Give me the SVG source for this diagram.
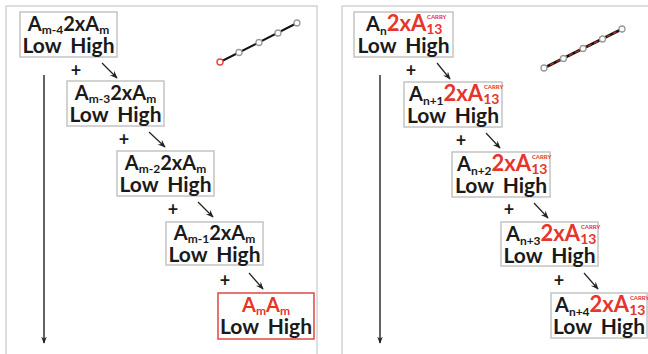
<svg xmlns="http://www.w3.org/2000/svg" width="648" height="354" viewBox="0 0 648 354">
  <style>
    .panel { fill: #ffffff; stroke: #d4d4d4; stroke-width: 1.5; }
    .box { fill: #ffffff; stroke: #c4c4c4; stroke-width: 1.5; }
    .box-red { fill: #ffffff; stroke: #e0473f; stroke-width: 1.5; }
    text { font-family: Lato, "Liberation Sans", sans-serif; font-weight: bold; fill: #1a1a1a; }
    .t { font-size: 20px; }
    .lh { font-size: 21px; word-spacing: 4px; }
    .mid { text-anchor: middle; }
    .sub { font-size: 12px; }
    .red { fill: #e8352c; }
    .big { font-size: 22px; }
    .num { font-size: 14px; }
    .carry { font-size: 6px; }
    .plus { font-size: 18px; text-anchor: middle; }
    .flow { stroke: #222; stroke-width: 1.4; fill: none; }
    .step { stroke: #222; stroke-width: 1.2; fill: none; }
    .pt { fill: #ffffff; stroke: #9a9a9a; stroke-width: 1.3; }
  </style>
  <defs>
    <marker id="head" viewBox="0 0 10 10" refX="9" refY="5" markerWidth="7" markerHeight="7" orient="auto" markerUnits="userSpaceOnUse">
      <path d="M0,1 L10,5 L0,9 L3,5 Z" fill="#222"/>
    </marker>
    <marker id="head-small" viewBox="0 0 10 10" refX="9" refY="5" markerWidth="8" markerHeight="8" orient="auto" markerUnits="userSpaceOnUse">
      <path d="M0,1 L10,5 L0,9 L3.5,5 Z" fill="#222"/>
    </marker>
  </defs>

  <!-- panel frames -->
  <rect class="panel" x="6" y="6" width="311" height="360"/>
  <rect class="panel" x="342" y="6" width="320" height="360"/>

  <!-- small polyline glyphs in the panel corners -->
  <g id="glyph-left">
    <line x1="220" y1="62" x2="297" y2="23" stroke="#111" stroke-width="2"/>
    <circle class="pt" cx="239" cy="52.5" r="3"/>
    <circle class="pt" cx="259" cy="42.5" r="3"/>
    <circle class="pt" cx="278" cy="33" r="3"/>
    <circle class="pt" cx="297" cy="23" r="3"/>
    <circle cx="220" cy="62" r="3" fill="#ffffff" stroke="#e0473f" stroke-width="1.4"/>
  </g>
  <g id="glyph-right">
    <line x1="544" y1="68" x2="622" y2="29" stroke="#111" stroke-width="3"/>
    <line x1="544" y1="68" x2="622" y2="29" stroke="#c0261f" stroke-width="1.5" stroke-dasharray="4 3"/>
    <circle class="pt" cx="544" cy="68" r="3"/>
    <circle class="pt" cx="563.5" cy="58.5" r="3"/>
    <circle class="pt" cx="583" cy="48.5" r="3"/>
    <circle class="pt" cx="602.5" cy="39" r="3"/>
    <circle class="pt" cx="622" cy="29" r="3"/>
  </g>

  <!-- connectors -->
  <g id="connectors">
    <line class="flow" x1="44" y1="75" x2="44" y2="343" marker-end="url(#head)"/>
    <line class="flow" x1="380" y1="75" x2="380" y2="343" marker-end="url(#head)"/>

    <line class="step" x1="102" y1="63" x2="117" y2="78" marker-end="url(#head-small)"/>
    <line class="step" x1="149" y1="132" x2="165" y2="147" marker-end="url(#head-small)"/>
    <line class="step" x1="198" y1="202" x2="213" y2="217" marker-end="url(#head-small)"/>
    <line class="step" x1="249" y1="273" x2="263" y2="289" marker-end="url(#head-small)"/>

    <line class="step" x1="437" y1="63" x2="450" y2="79" marker-end="url(#head-small)"/>
    <line class="step" x1="486" y1="133" x2="500" y2="148" marker-end="url(#head-small)"/>
    <line class="step" x1="534" y1="203" x2="548" y2="218" marker-end="url(#head-small)"/>
    <line class="step" x1="584" y1="273" x2="598" y2="289" marker-end="url(#head-small)"/>

    <text class="plus" x="76" y="77">+</text>
    <text class="plus" x="124" y="146">+</text>
    <text class="plus" x="173" y="216">+</text>
    <text class="plus" x="225" y="287">+</text>

    <text class="plus" x="411" y="77">+</text>
    <text class="plus" x="461" y="147">+</text>
    <text class="plus" x="509" y="216">+</text>
    <text class="plus" x="559" y="287">+</text>
  </g>

  <!-- left column: A(m-k) x 2 x A(m) partial products -->
  <g id="left-1">
    <rect class="box" x="20" y="12" width="97" height="45"/>
    <text class="t mid" x="68.5" y="30.5">A<tspan class="sub" dy="3.5">m-4</tspan><tspan dy="-3.5">2xA</tspan><tspan class="sub" dy="3.5">m</tspan></text>
    <text class="lh mid" x="68.5" y="52.5">Low High</text>
  </g>
  <g id="left-2">
    <rect class="box" x="67" y="81" width="97" height="45"/>
    <text class="t mid" x="115.5" y="99.5">A<tspan class="sub" dy="3.5">m-3</tspan><tspan dy="-3.5">2xA</tspan><tspan class="sub" dy="3.5">m</tspan></text>
    <text class="lh mid" x="115.5" y="121.5">Low High</text>
  </g>
  <g id="left-3">
    <rect class="box" x="117" y="151" width="97" height="45"/>
    <text class="t mid" x="165.5" y="169.5">A<tspan class="sub" dy="3.5">m-2</tspan><tspan dy="-3.5">2xA</tspan><tspan class="sub" dy="3.5">m</tspan></text>
    <text class="lh mid" x="165.5" y="191.5">Low High</text>
  </g>
  <g id="left-4">
    <rect class="box" x="166" y="222" width="97" height="43"/>
    <text class="t mid" x="214.5" y="239.5">A<tspan class="sub" dy="3.5">m-1</tspan><tspan dy="-3.5">2xA</tspan><tspan class="sub" dy="3.5">m</tspan></text>
    <text class="lh mid" x="214.5" y="261.5">Low High</text>
  </g>
  <g id="left-5">
    <rect class="box-red" x="218" y="293" width="96" height="46"/>
    <text class="t mid red" x="266" y="311.5">A<tspan class="sub" dy="3.5">m</tspan><tspan dy="-3.5">A</tspan><tspan class="sub" dy="3.5">m</tspan></text>
    <text class="lh mid" x="266" y="333.5">Low High</text>
  </g>

  <!-- right column: A(n+k) x 2 x A13 with carry -->
  <g id="right-1">
    <rect class="box" x="354" y="12" width="99" height="45"/>
    <text class="t" x="366" y="31">A<tspan class="sub" dy="3.5">n</tspan><tspan class="red big" dy="-3.5">2xA</tspan><tspan class="red num" dy="3">13</tspan><tspan class="red carry" dx="-15.5" dy="-15">CARRY</tspan></text>
    <text class="lh mid" x="403.5" y="52.5">Low High</text>
  </g>
  <g id="right-2">
    <rect class="box" x="404" y="82" width="98" height="45"/>
    <text class="t" x="409" y="101">A<tspan class="sub" dy="3.5">n+1</tspan><tspan class="red big" dy="-3.5">2xA</tspan><tspan class="red num" dy="3">13</tspan><tspan class="red carry" dx="-15.5" dy="-15">CARRY</tspan></text>
    <text class="lh mid" x="453" y="122.5">Low High</text>
  </g>
  <g id="right-3">
    <rect class="box" x="452" y="152" width="98" height="45"/>
    <text class="t" x="457" y="171">A<tspan class="sub" dy="3.5">n+2</tspan><tspan class="red big" dy="-3.5">2xA</tspan><tspan class="red num" dy="3">13</tspan><tspan class="red carry" dx="-15.5" dy="-15">CARRY</tspan></text>
    <text class="lh mid" x="501" y="192.5">Low High</text>
  </g>
  <g id="right-4">
    <rect class="box" x="501" y="222" width="97" height="44"/>
    <text class="t" x="506" y="241">A<tspan class="sub" dy="3.5">n+3</tspan><tspan class="red big" dy="-3.5">2xA</tspan><tspan class="red num" dy="3">13</tspan><tspan class="red carry" dx="-15.5" dy="-15">CARRY</tspan></text>
    <text class="lh mid" x="549.5" y="262.5">Low High</text>
  </g>
  <g id="right-5">
    <rect class="box" x="551" y="293" width="96" height="45"/>
    <text class="t" x="555" y="312">A<tspan class="sub" dy="3.5">n+4</tspan><tspan class="red big" dy="-3.5">2xA</tspan><tspan class="red num" dy="3">13</tspan><tspan class="red carry" dx="-15.5" dy="-15">CARRY</tspan></text>
    <text class="lh mid" x="599" y="333.5">Low High</text>
  </g>
</svg>
